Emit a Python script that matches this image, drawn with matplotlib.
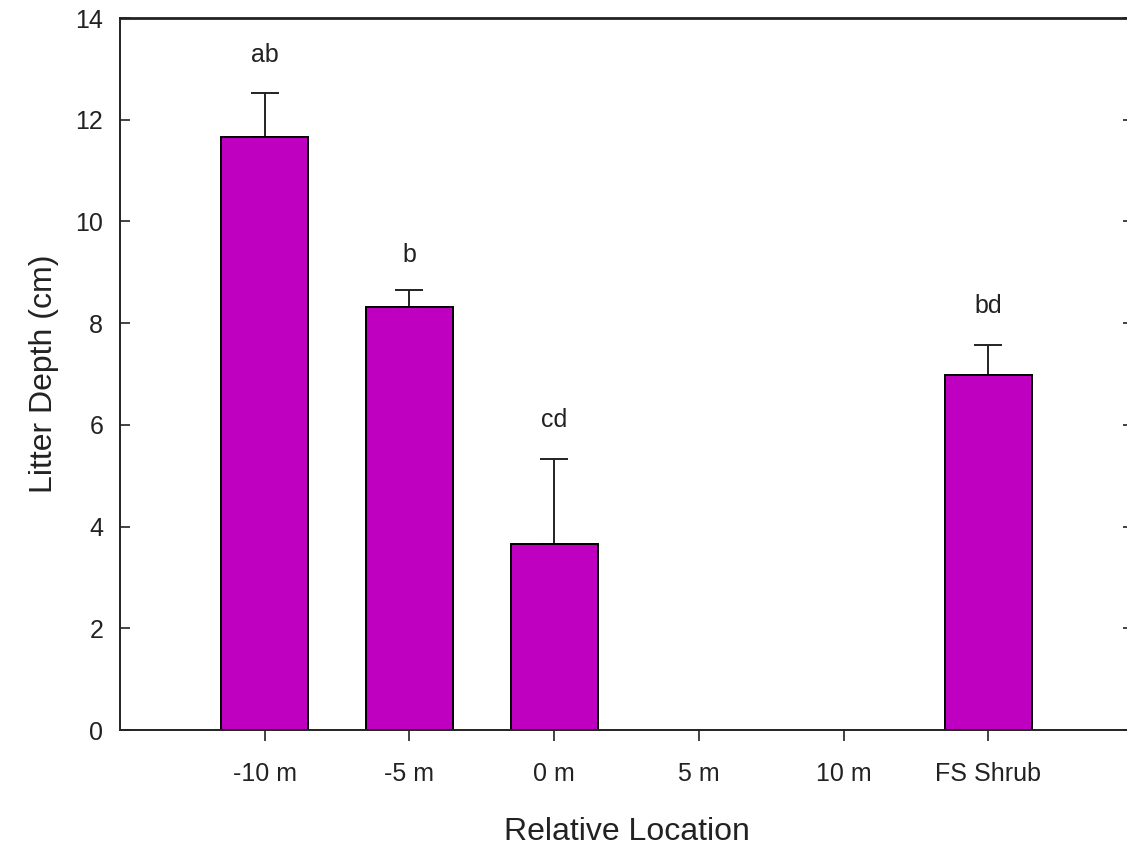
import matplotlib
matplotlib.use("Agg")
import matplotlib.pyplot as plt
import numpy as np

plt.rcParams['font.family'] = ['Liberation Sans', 'DejaVu Sans']

categories = ["-10 m", "-5 m", "0 m", "5 m", "10 m", "FS Shrub"]
means = [11.66, 8.32, 3.66, 0.0, 0.0, 6.98]
upper_err = [0.86, 0.33, 1.67, 0.0, 0.0, 0.59]
letters = ["ab", "b", "cd", "", "", "bd"]
letter_y = [13.27, 9.34, 6.1, None, None, 8.34]
yticks = [0, 2, 4, 6, 8, 10, 12, 14]

W, H = 1127, 847
fig = plt.figure(figsize=(W / 100, H / 100), dpi=100)
ax = fig.add_axes([120 / W, 1 - 730 / H, (1133 - 120) / W, (730 - 18) / H])

x = np.arange(len(categories))
has_bar = [m > 0 for m in means]
xb = x[has_bar]
mb = np.array(means)[has_bar]
eb = np.array(upper_err)[has_bar]
ax.bar(xb, mb, width=0.6, color="#C000C0", edgecolor="black", linewidth=1.4, zorder=2)
ax.errorbar(xb, mb, yerr=[np.zeros_like(eb), eb], fmt="none", ecolor="#222222",
            elinewidth=1.4, capsize=10, capthick=1.4, zorder=1)

for xi, lab, ly in zip(x, letters, letter_y):
    if lab:
        ax.text(xi, ly, lab, ha="center", va="center", fontsize=18, color="#222222")

ax.set_xlim(-1, 6)
ax.set_ylim(0, 14)
ax.set_xticks(x)
ax.set_xticklabels(categories, fontsize=18, color="#222222")
ax.set_yticks(yticks)
ax.set_yticklabels([str(t) for t in yticks], fontsize=18, color="#222222")
ax.tick_params(axis="y", direction="in", length=7, width=1.2, right=True, pad=12, color="#222222")
ax.tick_params(axis="x", direction="out", length=8, width=1.2, pad=15, color="#222222")
for s in ax.spines.values():
    s.set_linewidth(1.4)
    s.set_color("#222222")
ax.spines["top"].set_linewidth(2.0)

ax.set_xlabel("Relative Location", fontsize=23, labelpad=22, color="#222222")
ax.set_ylabel("Litter Depth (cm)", fontsize=23, labelpad=12, color="#222222")

fig.savefig("out.png", dpi=100)
